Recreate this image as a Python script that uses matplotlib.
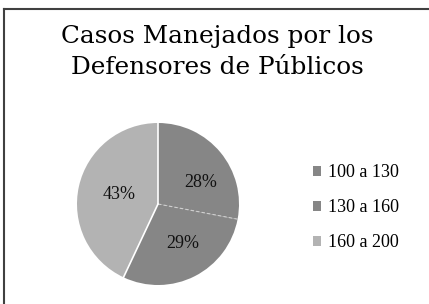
import numpy as np
import matplotlib
matplotlib.use("Agg")
import matplotlib.pyplot as plt
from matplotlib.lines import Line2D
from matplotlib.patches import Patch

# ----- Datos -----
categorias = ["100 a 130", "130 a 160", "160 a 200"]
porcentajes = [28, 29, 43]
colores = ["#868686", "#868686", "#b3b3b3"]
titulo = "Casos Manejados por los\nDefensores de Públicos"

W, H = 429, 304
fig = plt.figure(figsize=(W / 100, H / 100), dpi=100)

# marco (solo arriba e izquierda visibles)
fig.add_artist(Line2D([4 / W, 4 / W], [0, 1 - 9 / H], color="#404040", lw=1.5))
fig.add_artist(Line2D([4 / W, 1], [1 - 9 / H, 1 - 9 / H], color="#404040", lw=1.5))

fig.text(217 / W, 1 - 52 / H, titulo, ha="center", va="center",
         fontsize=17.8, family="DejaVu Serif", linespacing=1.5)

# ----- Pastel -----
cx, cy, r = 158, 204, 81
ax = fig.add_axes([(cx - r) / W, 1 - (cy + r) / H, 2 * r / W, 2 * r / H])
wedges, textos, pct = ax.pie(porcentajes, colors=colores, startangle=90, counterclock=False,
                             autopct="%d%%", pctdistance=0.6,
                             wedgeprops=dict(linewidth=0),
                             textprops=dict(family="Liberation Serif", fontsize=13, color="#111111"))
ax.set_aspect("equal")
ax.set_xlim(-1, 1)
ax.set_ylim(-1, 1)

# etiquetas colocadas como en el original ("mejor ajuste")
for t, (x, y) in zip(pct, [(0.53, 0.26), (0.31, -0.49), (-0.48, 0.12)]):
    t.set_position((x, y))

# separadores entre sectores
ang = 90 - np.cumsum([0] + porcentajes[:-1]) / sum(porcentajes) * 360
estilos = ["-", (0, (3, 2)), "-"]
anchos = [1.2, 0.8, 1.2]
colsep = ["white", "#d0d0d0", "white"]
for a, ls, lw, c in zip(ang, estilos, anchos, colsep):
    t = np.deg2rad(a)
    ax.plot([0, np.cos(t)], [0, np.sin(t)], color=c, ls=ls, lw=lw)

# ----- Leyenda -----
handles = [Patch(facecolor=c, edgecolor="none") for c in colores]
fig.legend(handles, categorias, loc="upper left", bbox_to_anchor=(297 / W, 1 - 148 / H),
           frameon=False, prop=dict(family="Liberation Serif", size=13),
           handlelength=0.45, handleheight=0.45, handletextpad=0.35, labelspacing=1.0)

fig.savefig("out.png", dpi=100)
